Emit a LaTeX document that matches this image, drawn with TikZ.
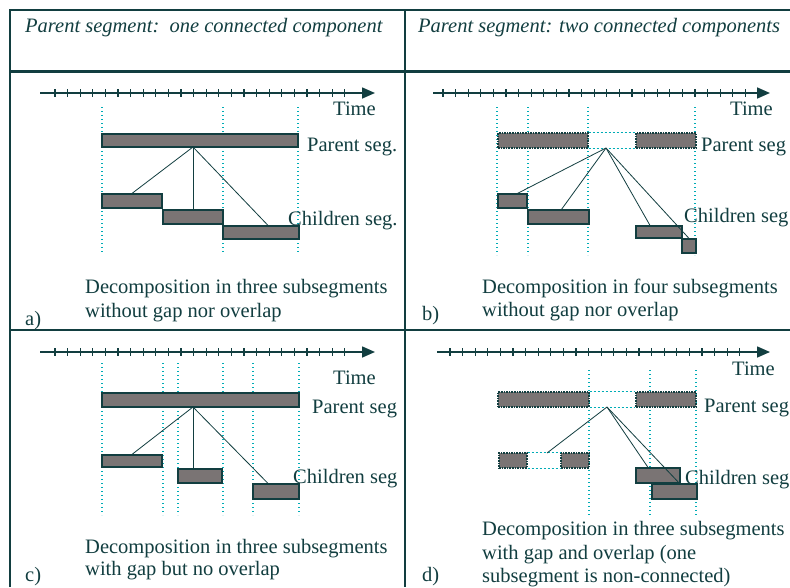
\documentclass[tikz,border=0pt]{standalone}
\usepackage{fontspec}
\setmainfont{Liberation Serif}
\usetikzlibrary{arrows.meta,calc,fit}
\definecolor{ink}{RGB}{18,62,64}
\definecolor{guidec}{RGB}{0,172,182}
\definecolor{barfill}{RGB}{122,116,116}
\newcommand{\myaxis}[6]{% name, x0, y, x1, first tick x, number of ticks-1
  \coordinate (#1-s) at (#2,#3);
  \coordinate (#1-e) at (#4,#3);
  \draw[axisline] (#1-s) -- (#1-e);
  \foreach \k in {0,...,#6} \draw[tickline] (#5+12.6*\k,#3-4) -- ++(0,8);
}
\begin{document}
\begin{tikzpicture}[x=1pt,y=-1pt,
  bar/.style={draw=ink, fill=barfill, line width=1.2pt, rectangle, inner sep=0pt},
  dbar/.style={bar, dash pattern=on 1.6pt off 1pt},
  guide/.style={draw=guidec, line width=1.4pt, dash pattern=on 1.4pt off 2.6pt},
  gapline/.style={draw=guidec, line width=1.2pt, dash pattern=on 2pt off 2pt},
  link/.style={draw=ink, line width=0.8pt},
  frame/.style={draw=ink, line width=1.8pt},
  axisline/.style={draw=ink, line width=1.6pt, -{Triangle[length=13pt,width=11pt]}},
  tickline/.style={draw=ink, line width=1.1pt},
  lbl/.style={text=ink, font=\fontsize{20.5}{24}\selectfont, inner sep=0pt, anchor=base west},
  hdr/.style={lbl, font=\fontsize{20.5}{24}\selectfont\itshape},
]
\useasboundingbox[fill=white] (0,0) rectangle (790,587);

% ---------- frame ----------
\draw[frame] (10,587) -- (10,10) -- (790,10);
\draw[frame, line width=3pt] (10,71) -- (790,71);
\draw[frame, line width=2.4pt] (405,10) -- (405,587);
\draw[frame, line width=2.2pt] (10,330) -- (790,330);

\node[hdr] (ha) at (25,32) {Parent segment:\, one connected component};
\node[hdr] (hb) at (418,32) {Parent segment: two connected components};

% ---------- panel a ----------
\myaxis{axa}{40}{93}{375}{55}{23}
\foreach \xx in {102,223,298} \draw[guide] (\xx,107) -- (\xx,253);
\node[bar, fit={(102,134) (298,147)}] (pa) {};
\coordinate (pa-j) at (193,147);
\node[bar, fit={(102,194) (162,208)}] (ca1) {};
\node[bar, fit={(163,210) (223,224)}] (ca2) {};
\node[bar, fit={(223,226) (299,239)}] (ca3) {};
\draw[link] (pa-j) -- (ca1.north);
\draw[link] (pa-j) -- (ca2.north -| pa-j);
\draw[link] (pa-j) -- ([xshift=7pt]ca3.north);
\node[lbl] (ta) at (333,115) {Time};
\node[lbl] (la1) at (307,151) {Parent seg.};
\node[lbl] (la2) at (288,225) {Children seg.};
\node[lbl] (capa1) at (85,293) {Decomposition in three subsegments};
\node[lbl] (capa2) at (85,317) {without gap nor overlap};
\node[lbl] (tagA) at (25,325) {a)};

% ---------- panel b ----------
\myaxis{axb}{433}{93}{770}{443}{24}
\foreach \xx in {497,528,588,695} \draw[guide] (\xx,107) -- (\xx,255);
\node[dbar, fit={(498,133) (588,148)}] (pb1) {};
\node[dbar, fit={(636,133) (696,148)}] (pb2) {};
\draw[gapline] (pb1.north east) -- (pb2.north west);
\draw[gapline] (pb1.south east) -- (pb2.south west);
\coordinate (pb-j) at (606,148);
\node[bar, fit={(498,194) (527,208)}] (cb1) {};
\node[bar, fit={(528,210) (589,224)}] (cb2) {};
\node[bar, fit={(636,226) (682,238)}] (cb3) {};
\node[bar, fit={(682,239) (696,253)}] (cb4) {};
\draw[link] (pb-j) -- ([xshift=5pt]cb1.north);
\draw[link] (pb-j) -- ([xshift=3pt]cb2.north);
\draw[link] (pb-j) -- ([xshift=-9pt]cb3.north);
\draw[link] (pb-j) -- (cb4.north);
\node[lbl] (tb) at (730,115) {Time};
\node[lbl] (lb1) at (701,151) {Parent seg};
\node[lbl] (lb2) at (684,222) {Children seg};
\node[lbl] (capb1) at (482,293) {Decomposition in four subsegments};
\node[lbl] (capb2) at (482,316) {without gap nor overlap};
\node[lbl] (tagB) at (422,320) {b)};

% ---------- panel c ----------
\myaxis{axc}{40}{352}{375}{55}{23}
\foreach \xx in {102,163,178,223,253,299} \draw[guide] (\xx,363) -- (\xx,515);
\node[bar, fit={(102,393) (299,407)}] (pc) {};
\coordinate (pc-j) at (193,407);
\node[bar, fit={(102,455) (162,467)}] (cc1) {};
\node[bar, fit={(178,469) (222,483)}] (cc2) {};
\node[bar, fit={(253,484) (299,499)}] (cc3) {};
\draw[link] (pc-j) -- (cc1.north);
\draw[link] (pc-j) -- (cc2.north -| pc-j);
\draw[link] (pc-j) -- ([xshift=-8pt]cc3.north);
\node[lbl] (tc) at (333,384) {Time};
\node[lbl] (lc1) at (312,413) {Parent seg};
\node[lbl] (lc2) at (293,483) {Children seg};
\node[lbl] (capc1) at (85,553) {Decomposition in three subsegments};
\node[lbl] (capc2) at (85,575) {with gap but no overlap};
\node[lbl] (tagC) at (25,581) {c)};

% ---------- panel d ----------
\myaxis{axd}{437}{352}{770}{450}{23}
\foreach \xx in {589,650,696} \draw[guide] (\xx,370) -- (\xx,515);
\node[dbar, fit={(498,392) (589,407)}] (pd1) {};
\node[dbar, fit={(636,392) (696,407)}] (pd2) {};
\draw[gapline] (pd1.north east) -- (pd2.north west);
\draw[gapline] (pd1.south east) -- (pd2.south west);
\coordinate (pd-j) at (607,407);
\node[dbar, fit={(499,453) (527,468)}] (cd1a) {};
\node[dbar, fit={(561,453) (589,468)}] (cd1b) {};
\draw[gapline] (cd1a.north east) -- (cd1b.north west);
\draw[gapline] (cd1a.south east) -- (cd1b.south west);
\coordinate (cd1-g) at (547,453);
\node[bar, fit={(636,468) (680,483)}] (cd2) {};
\node[bar, fit={(652,484) (697,499)}] (cd3) {};
\draw[link] (pd-j) -- (cd1-g);
\draw[link] (pd-j) -- ([xshift=-10pt]cd2.north);
\draw[link] (pd-j) -- ([xshift=5pt]cd3.north);
\node[lbl] (td) at (732,375) {Time};
\node[lbl] (ld1) at (704,412) {Parent seg};
\node[lbl] (ld2) at (685,484) {Children seg};
\node[lbl] (capd1) at (482,535) {Decomposition in three subsegments};
\node[lbl] (capd2) at (482,559) {with gap and overlap (one};
\node[lbl] (capd3) at (482,582) {subsegment is non-connected)};
\node[lbl] (tagD) at (422,581) {d)};
\end{tikzpicture}
\end{document}
